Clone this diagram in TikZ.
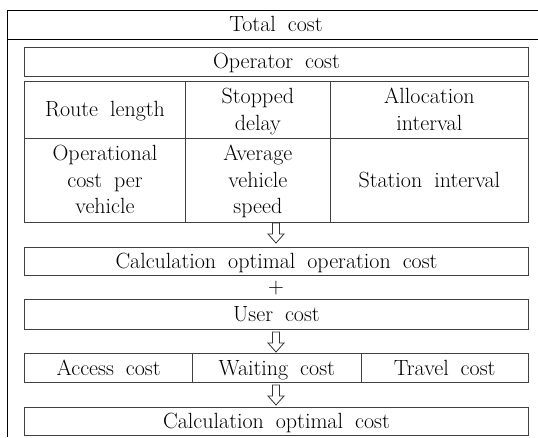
\documentclass[tikz,border=0pt]{standalone}
\newcommand{\reffont}{\fontsize{22}{26.7}\selectfont\spaceskip=12pt plus 1pt minus 1pt\relax}
\begin{document}
\begin{tikzpicture}[x=1pt,y=-1pt,
  frame/.style={draw=black,line width=0.9pt},
  cell/.style={draw=black!75,line width=1pt,inner sep=0pt,anchor=north west},
  lbl/.style={inner sep=0pt,align=center,font=\reffont,yshift=-1.5pt},
  hollow/.style={draw=black!80,line width=0.8pt,fill=white}]
\useasboundingbox (0,0) rectangle (538,437);
% outer frame
\coordinate (tl) at (7,10.7);
\coordinate (tr) at (538,10.7);
\coordinate (ml) at (7,39.3);
\coordinate (mr) at (538,39.3);
\coordinate (bl) at (7,437);
\draw[frame] (tr) -- (tl) -- (bl);
\draw[frame] (ml) -- (mr);
\node[lbl] (total) at (276,25) {\strut Total cost};
% operator cost
\node[cell,minimum width=503.4pt,minimum height=28.7pt] (oper) at (24.3,47) {};
\node[lbl] at (oper.center) {\strut Operator cost};
% grid row 1
\node[cell,minimum width=160.4pt,minimum height=56.7pt] (route) at (24.3,81) {};
\node[cell,minimum width=145.3pt,minimum height=56.7pt] (stop) at (184.7,81) {};
\node[cell,minimum width=197.7pt,minimum height=56.7pt] (alloc) at (330,81) {};
\node[lbl] at (route.center) {\strut Route length};
\node[lbl] at (stop.center) {\strut Stopped\\\strut delay};
\node[lbl] at (alloc.center) {\strut Allocation\\\strut interval};
% grid row 2
\node[cell,minimum width=160.4pt,minimum height=84pt] (opc) at (24.3,137.7) {};
\node[cell,minimum width=145.3pt,minimum height=84pt] (avg) at (184.7,137.7) {};
\node[cell,minimum width=197.7pt,minimum height=84pt] (stat) at (330,137.7) {};
\node[lbl] at (opc.center) {\strut Operational\\\strut cost per\\\strut vehicle};
\node[lbl] at (avg.center) {\strut Average\\\strut vehicle\\\strut speed};
\node[lbl] at (stat.center) {\strut Station interval};
% calc operation
\node[cell,minimum width=503.4pt,minimum height=28.3pt] (calcop) at (24.3,247) {};
\node[lbl] at (calcop.center) {\strut Calculation optimal operation cost};
\node[lbl] (plus) at (276,287) {\strut +};
% user cost
\node[cell,minimum width=503.4pt,minimum height=30pt] (user) at (24.3,299.3) {};
\node[lbl] at (user.center) {\strut User cost};
% cost row
\node[cell,minimum width=167.7pt,minimum height=29pt] (acc) at (24.3,353.3) {};
\node[cell,minimum width=168.7pt,minimum height=29pt] (wait) at (192,353.3) {};
\node[cell,minimum width=167pt,minimum height=29pt] (trav) at (360.7,353.3) {};
\node[lbl] at (acc.center) {\strut Access cost};
\node[lbl] at (wait.center) {\strut Waiting cost};
\node[lbl] at (trav.center) {\strut Travel cost};
% final
\node[cell,minimum width=503.4pt,minimum height=27.7pt] (final) at (24.3,407.3) {};
\node[lbl] at (final.center) {\strut Calculation optimal cost};
% hollow arrows
\foreach \y/\n in {223/a1,332/a2,385/a3}{
  \draw[hollow] (272.5,\y) -- (279.5,\y) -- (279.5,\y+11) -- (284,\y+11) -- (276,\y+20)
    -- (268,\y+11) -- (272.5,\y+11) -- cycle;
}
\end{tikzpicture}
\end{document}
